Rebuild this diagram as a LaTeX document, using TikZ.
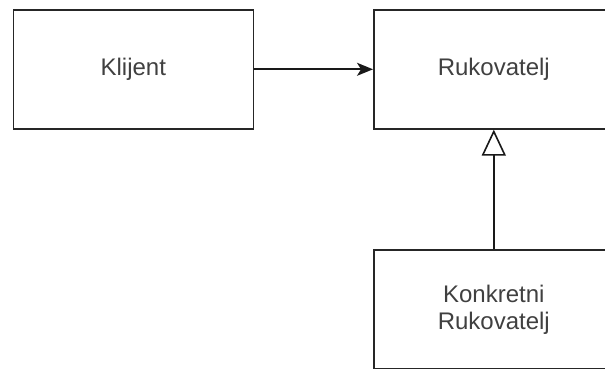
\documentclass[tikz,border=0pt]{standalone}
\usepackage{fontspec}
\setmainfont{Liberation Sans}
\usetikzlibrary{arrows.meta}
\begin{document}
\begin{tikzpicture}[x=1pt,y=-1pt,
  box/.style={draw=black!85, line width=1.6pt, minimum width=240pt, minimum height=119pt,
    inner sep=0pt, font=\fontsize{24}{27}\selectfont, text=black!75, align=center, anchor=north west},
  conn/.style={draw=black!90, line width=1.6pt}]
\useasboundingbox (0,0) rectangle (605,369);
\clip (0,0) rectangle (605,369);
\node[box] (k) at (12.5,9) {Klijent};
\node[box] (r) at (373,9) {Rukovatelj};
\node[box] (c) at (373,249) {Konkretni\\Rukovatelj};
\draw[conn, -{Stealth[length=16pt,width=13pt,inset=4pt]}] (k.east) -- (r.west);
\draw[conn, -{Triangle[open,length=26pt,width=24pt,fill=white]}] (c.north) -- (r.south);
\end{tikzpicture}
\end{document}
